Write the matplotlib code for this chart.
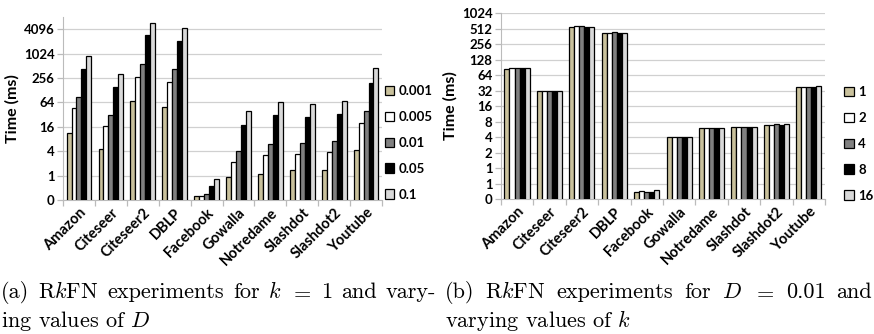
import matplotlib
matplotlib.use("Agg")
import matplotlib.pyplot as plt
import numpy as np
from matplotlib.patches import Patch

datasets = ["Amazon", "Citeseer", "Citeseer2", "DBLP", "Facebook", "Gowalla",
            "Notredame", "Slashdot", "Slashdot2", "Youtube"]

# (a) varying D, k = 1
d_labels = ["0.001", "0.005", "0.01", "0.05", "0.1"]
d_001 = [11, 4.6, 69, 50, 0.31, 0.93, 1.12, 1.36, 1.36, 4.2]
d_005 = [46, 16.7, 266, 208, 0.32, 2.2, 3.25, 3.5, 3.8, 19.4]
d_01 = [88, 32, 580, 427, 0.35, 4.0, 6.2, 6.4, 7.0, 38.5]
d_05 = [427, 156, 3030, 2160, 0.56, 18, 31, 28, 33, 194]
d_1 = [880, 315, 5950, 4400, 0.81, 40, 66, 60, 70, 458]

# (b) varying k, D = 0.01
k_labels = ["1", "2", "4", "8", "16"]
k_1 = [84, 31.5, 560, 420, 0.35, 4.0, 6.1, 6.2, 7.0, 38]
k_2 = [86, 31.5, 565, 428, 0.36, 3.95, 6.1, 6.2, 7.0, 38]
k_4 = [86, 31.5, 562, 430, 0.35, 3.95, 6.05, 6.15, 7.05, 38]
k_8 = [86, 31, 555, 412, 0.34, 4.0, 6.0, 6.15, 6.95, 37]
k_16 = [86, 31.5, 560, 420, 0.37, 4.0, 6.1, 6.25, 7.05, 38.5]

left_ticks = [0.25, 1, 4, 16, 64, 256, 1024, 4096]
left_ticklabels = ["0", "1", "4", "16", "64", "256", "1024", "4096"]
right_ticks = [0.25, 0.5, 1, 2, 4, 8, 16, 32, 64, 128, 256, 512, 1024]
right_ticklabels = ["0", "1", "1", "2", "4", "8", "16", "32", "64", "128", "256", "512", "1024"]

caption_a = [r"(a) R$k$FN experiments for $k$ $=$ 1 and vary-", r"ing values of $D$"]
caption_b = [r"(b) R$k$FN experiments for $D$ $=$ 0.01 and", r"varying values of $k$"]

colors = ["#C9C19C", "#FFFFFF", "#808080", "#000000", "#D9D9D9"]
TF = "Lato"
FS = 9.5
XFS = 10.5

plt.rcParams["mathtext.fontset"] = "cm"
fig = plt.figure(figsize=(8.74, 3.34), dpi=100)


def draw(ax, series, labels, ticks, ticklabels, ylim, legend_anchor):
    n = len(datasets)
    x = np.arange(n)
    w = 0.155
    for i, (vals, c) in enumerate(zip(series, colors)):
        ax.bar(x + (i - 2) * w, vals, width=w, color=c, edgecolor="black",
               linewidth=0.9, zorder=3)
    ax.set_yscale("log", base=2)
    ax.set_ylim(*ylim)
    ax.set_xlim(-0.5, n - 0.5)
    ax.set_yticks(ticks)
    ax.set_yticklabels(ticklabels, fontfamily=TF, fontweight="bold", fontsize=FS)
    ax.minorticks_off()
    ax.yaxis.grid(True, color="#D0D0D0", linewidth=0.9, zorder=0)
    ax.set_xticks(x)
    ax.set_xticklabels(datasets, rotation=45, ha="right", rotation_mode="anchor",
                       fontfamily=TF, fontweight="bold", fontsize=XFS)
    ax.set_xticks(np.arange(-0.5, n, 1.0), minor=True)
    ax.tick_params(axis="x", which="major", length=0, pad=4)
    ax.tick_params(axis="x", which="minor", length=4, color="#BBBBBB", width=0.9)
    ax.tick_params(axis="y", length=4, color="#BBBBBB", width=0.9, pad=2)
    for s in ["top", "right"]:
        ax.spines[s].set_visible(False)
    ax.spines["left"].set_color("#BBBBBB")
    ax.spines["bottom"].set_color("#BBBBBB")
    ax.set_ylabel("Time (ms)", fontfamily=TF, fontweight="bold", fontsize=11.5, labelpad=3)
    handles = [Patch(facecolor=c, edgecolor="black", linewidth=0.9) for c in colors]
    fig.legend(handles, labels, loc="upper left", bbox_to_anchor=legend_anchor,
               frameon=False, handlelength=0.7, handleheight=0.7, handletextpad=0.35,
               labelspacing=1.05, prop={"family": TF, "weight": "bold", "size": FS},
               borderaxespad=0, borderpad=0)


ax1 = fig.add_axes([0.0721, 0.401, 0.365, 0.548])
draw(ax1, [d_001, d_005, d_01, d_05, d_1], d_labels, left_ticks, left_ticklabels,
     (0.25, 8192), (0.440, 0.745))

ax2 = fig.add_axes([0.573, 0.404, 0.371, 0.557])
draw(ax2, [k_1, k_2, k_4, k_8, k_16], k_labels, right_ticks, right_ticklabels,
     (0.25, 1024), (0.966, 0.742))

# Captions (justified first line, like the LaTeX source)
renderer = fig.canvas.get_renderer()
W = fig.bbox.width
cap = dict(fontfamily="cmr10", fontsize=16, va="baseline", ha="left")


def justified(line, x0, x1, y):
    words = line.split(" ")
    texts = [fig.text(0, y, wd, **cap) for wd in words]
    widths = [t.get_window_extent(renderer).width / W for t in texts]
    gap = (x1 - x0 - sum(widths)) / (len(words) - 1)
    x = x0
    for t, wdt in zip(texts, widths):
        t.set_x(x)
        x += wdt + gap


def ragged(line, x0, y):
    fig.text(x0, y, line, **cap)


justified(caption_a[0], 1 / W, 436 / W, 0.107)
ragged(caption_a[1], 1 / W, 0.022)
justified(caption_b[0], 445 / W, 872 / W, 0.107)
ragged(caption_b[1], 445 / W, 0.022)

fig.savefig("out.png", dpi=100)
